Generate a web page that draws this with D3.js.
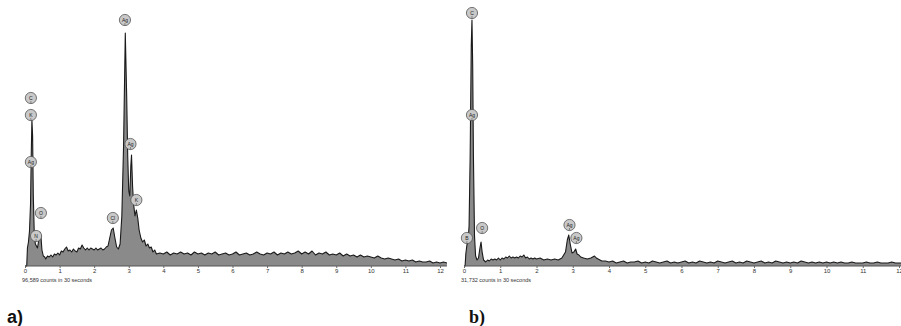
<!DOCTYPE html>
<html>
<head>
<meta charset="utf-8">
<script src="https://cdn.jsdelivr.net/npm/d3@7"></script>
<style>
  body { margin: 0; background: #fff; }
  svg { display: block; }
</style>
</head>
<body>
<svg id="chart"></svg>
<script>
// spectrum a) : peak region as [keV, counts], tail as counts every 0.1 keV
const peaksA = [
  [0, 0], [0.05, 0], [0.07, 18], [0.1, 24], [0.13, 35], [0.16, 62], [0.18, 110], [0.2, 146],
  [0.22, 130], [0.24, 70], [0.27, 30], [0.3, 22], [0.33, 20], [0.36, 18], [0.39, 24], [0.43, 34],
  [0.46, 30], [0.49, 16], [0.53, 10], [0.57, 9], [0.6, 7], [0.65, 10], [0.7, 9], [0.75, 11],
  [0.8, 9], [0.85, 12], [0.9, 11], [0.95, 13], [1.0, 11], [1.05, 15], [1.1, 14], [1.15, 17],
  [1.2, 19], [1.25, 15], [1.3, 16], [1.35, 14], [1.4, 17], [1.45, 15], [1.5, 14], [1.55, 18],
  [1.6, 17], [1.65, 21], [1.7, 18], [1.75, 16], [1.8, 18], [1.85, 16], [1.9, 18], [1.95, 17],
  [2.0, 16], [2.05, 18], [2.1, 16], [2.15, 17], [2.2, 18], [2.25, 16], [2.3, 17], [2.35, 19],
  [2.4, 20], [2.45, 28], [2.5, 36], [2.55, 38], [2.6, 28], [2.65, 19], [2.7, 17], [2.75, 22],
  [2.8, 50], [2.85, 120], [2.9, 233], [2.94, 170], [2.97, 110], [3.0, 75], [3.03, 70], [3.06, 100],
  [3.08, 111], [3.11, 80], [3.14, 62], [3.18, 50], [3.22, 56], [3.26, 48], [3.3, 36], [3.35, 28],
  [3.4, 24], [3.45, 26], [3.5, 20], [3.55, 22], [3.6, 18], [3.65, 19], [3.7, 14], [3.75, 16],
  [3.8, 12]
];
const tailA = [
  13,
  12, 14, 11, 13, 12, 14, 12, 13, 11, 14,
  12, 13, 11, 13, 12, 14, 11, 12, 13, 11,
  12, 14, 11, 12, 13, 11, 12, 14, 12, 11,
  13, 12, 14, 11, 13, 12, 14, 12, 13, 15,
  12, 14, 12, 15, 11, 13, 12, 14, 11, 12,
  11, 13, 10, 12, 10, 11, 9, 11, 9, 10,
  9, 8, 10, 8, 7, 8, 7, 6, 7, 5,
  6, 5, 6, 4, 5, 4, 4, 5, 3, 4,
  3, 4, 3
];

// spectrum b)
const peaksB = [
  [0, 0], [0.03, 0], [0.05, 12], [0.08, 21], [0.11, 24], [0.14, 40], [0.17, 110], [0.2, 220],
  [0.22, 246], [0.24, 200], [0.26, 110], [0.29, 30], [0.32, 10], [0.36, 6], [0.4, 8], [0.44, 18],
  [0.47, 24], [0.5, 14], [0.54, 6], [0.6, 4], [0.65, 6], [0.7, 5], [0.75, 7], [0.8, 6],
  [0.85, 7], [0.9, 6], [0.95, 8], [1.0, 6], [1.05, 8], [1.1, 7], [1.15, 9], [1.2, 8],
  [1.25, 10], [1.3, 8], [1.35, 9], [1.4, 8], [1.45, 9], [1.5, 8], [1.55, 10], [1.6, 9],
  [1.65, 11], [1.7, 8], [1.75, 9], [1.8, 7], [1.85, 8], [1.9, 7], [1.95, 8], [2.0, 7],
  [2.1, 8], [2.2, 6], [2.3, 7], [2.4, 6], [2.5, 7], [2.6, 6], [2.7, 8], [2.8, 14],
  [2.85, 26], [2.89, 31], [2.93, 22], [2.98, 13], [3.03, 14], [3.08, 17], [3.12, 12], [3.17, 11],
  [3.22, 9], [3.3, 8], [3.4, 7], [3.5, 8], [3.55, 9], [3.6, 10], [3.65, 8], [3.7, 7],
  [3.8, 5]
];
const tailB = [
  5,
  4, 5, 3, 4, 5, 3, 4, 4, 5, 3,
  4, 3, 5, 4, 3, 4, 5, 3, 4, 3,
  4, 5, 3, 4, 3, 5, 4, 3, 4, 3,
  5, 4, 3, 4, 5, 3, 4, 3, 5, 4,
  3, 4, 5, 3, 4, 3, 5, 4, 3, 4,
  3, 4, 3, 5, 4, 3, 4, 3, 4, 3,
  4, 3, 4, 3, 4, 3, 3, 4, 3, 3,
  3, 4, 3, 3, 4, 3, 3, 3, 4, 3,
  3, 3
];

// element markers: [element, keV, counts level of the marker]
const labelsA = [
  ["Ag", 2.89, 246], ["C", 0.17, 168], ["K", 0.17, 151], ["Ag", 0.17, 104],
  ["O", 0.46, 53], ["N", 0.32, 30], ["Cl", 2.54, 48], ["Ag", 3.05, 122], ["K", 3.22, 66]
];
const labelsB = [
  ["C", 0.22, 253], ["Ag", 0.22, 151], ["B", 0.08, 28], ["O", 0.5, 38],
  ["Ag", 2.91, 41], ["Ag", 3.1, 28]
];

const ticks = d3.range(0, 13);
const countsA = "96,589 counts in 30 seconds";
const countsB = "31,732 counts in 30 seconds";

const W = 901, H = 326;
const svg = d3.select("#chart").attr("width", W).attr("height", H);

function withTail(peaks, tail) {
  return peaks.concat(tail.map((c, i) => [3.9 + i * 0.1, c]));
}

function panel(cfg) {
  const x = d3.scaleLinear([0, 12], cfg.xRange);
  const y = d3.scaleLinear([0, 260], [266, 6]);
  const g = svg.append("g");

  const area = d3.area().x(d => x(d[0])).y0(y(0)).y1(d => y(d[1]));
  const line = d3.line().x(d => x(d[0])).y(d => y(d[1]));

  g.append("path").attr("d", area(cfg.data)).attr("fill", "#8a8a8a");
  g.append("path").attr("d", line(cfg.data)).attr("fill", "none")
   .attr("stroke", "#1a1a1a").attr("stroke-width", 1.1).attr("stroke-linejoin", "round");

  // x axis
  const axis = d3.axisBottom(x).tickValues(ticks).tickSize(2).tickPadding(1).tickSizeOuter(0);
  g.append("g").attr("transform", `translate(0,${y(0)})`).call(axis)
   .call(a => a.select(".domain").attr("stroke", "#555").attr("d", `M${x(0)},0H${x(cfg.xMax)}`))
   .call(a => a.selectAll(".tick line").attr("stroke", "#666"))
   .call(a => a.selectAll(".tick text").attr("fill", "#333")
               .style("font", "6px 'Liberation Sans', sans-serif"));

  g.append("text").attr("x", x(0) - 3).attr("y", 282)
   .style("font", "5.5px 'Liberation Sans', sans-serif").attr("fill", "#333")
   .text(cfg.counts);

  // element markers
  const m = g.selectAll("g.mark").data(cfg.labels).join("g").attr("class", "mark")
             .attr("transform", d => `translate(${x(d[1])},${y(d[2])})`);
  m.append("circle").attr("r", 5.6).attr("fill", "#c9c9c9").attr("stroke", "#555").attr("stroke-width", 0.8);
  m.append("line").attr("y1", 3).attr("y2", 5.6).attr("stroke", "#555").attr("stroke-width", 0.6);
  m.append("text").attr("text-anchor", "middle").attr("y", 1.5)
   .style("font", "5px 'Liberation Sans', sans-serif").attr("fill", "#222")
   .text(d => d[0]);

  g.append("text").attr("x", cfg.tagX).attr("y", 323)
   .style("font", cfg.tagFont).attr("fill", "#111").text(cfg.tag);
}

panel({
  data: withTail(peaksA, tailA), labels: labelsA, xRange: [25, 440], xMax: 12.2,
  counts: countsA, tag: "a)", tagX: 7, tagFont: "bold 18px 'Liberation Sans', sans-serif"
});
panel({
  data: withTail(peaksB, tailB), labels: labelsB, xRange: [464, 899], xMax: 12.1,
  counts: countsB, tag: "b)", tagX: 469, tagFont: "bold 18px 'Liberation Serif', serif"
});
</script>
</body>
</html>
